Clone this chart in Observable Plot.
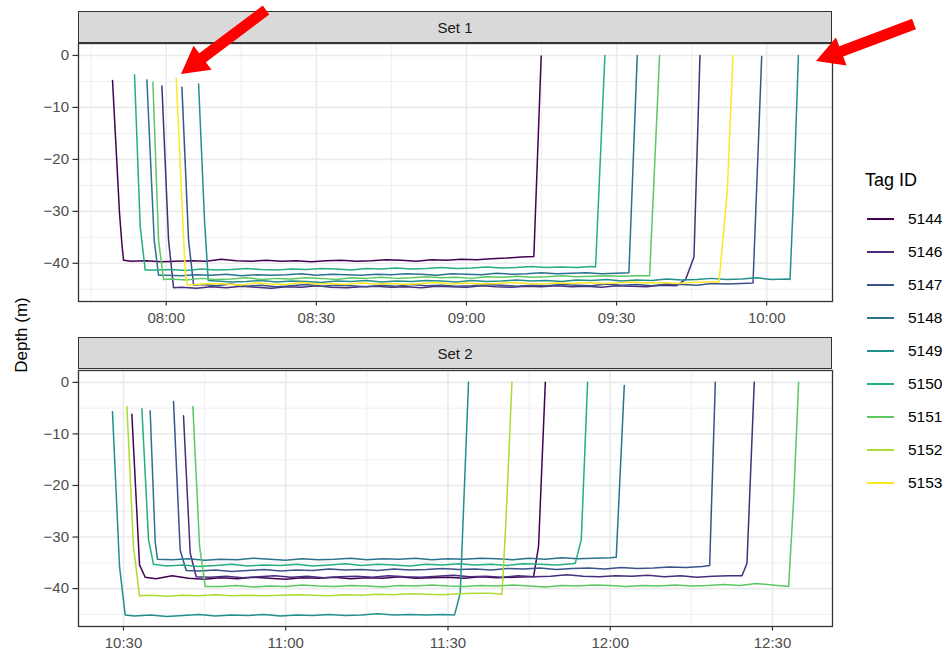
<!DOCTYPE html>
<html>
<head>
<meta charset="utf-8">
<script src="https://cdn.jsdelivr.net/npm/d3@7"></script>
<script src="https://cdn.jsdelivr.net/npm/@observablehq/plot@0.6"></script>
<style>
  body { margin: 0; background: #fff; font-family: "Liberation Sans", Arial, sans-serif; }
  #wrap { position: relative; width: 949px; height: 653px; overflow: hidden; background: #fff; }
  .strip { position: absolute; left: 78px; width: 754px; height: 32px; background: #D9D9D9;
           border: 1.3px solid #333; box-sizing: border-box; font-size: 15px; color: #1A1A1A;
           display: flex; align-items: center; justify-content: center; }
  .panel { position: absolute; left: 0; }
  #ylab { position: absolute; left: 22px; top: 335px; transform: translate(-50%, -50%) rotate(-90deg);
          font-size: 17px; color: #000; white-space: nowrap; }
  #legend { position: absolute; left: 865px; top: 170px; }
  #legend .title { position: absolute; left: 0; top: 0; font-size: 18px; color: #000; white-space: nowrap; }
  #legend .item { position: absolute; left: 0; height: 20px; white-space: nowrap; }
  #legend .sw { position: absolute; left: 2px; top: 9px; width: 27px; height: 2.4px; }
  #legend .lab { position: absolute; left: 43px; top: 1px; font-size: 15.5px; color: #000; }
  #arrows { position: absolute; left: 0; top: 0; }
</style>
</head>
<body>
<div id="wrap">
  <div class="strip" style="top:11px">Set 1</div>
  <div class="strip" style="top:337px">Set 2</div>
  <div id="ylab">Depth (m)</div>
  <div id="legend"></div>
</div>
<script>
// ---------- data ----------
const tags = ["5144", "5146", "5147", "5148", "5149", "5150", "5151", "5152", "5153"];
const colors = ["#440154", "#472D7B", "#3B528B", "#2C728E", "#21908C", "#27AD81", "#5DC863", "#AADC32", "#FDE725"];
const yTicks = [0, -10, -20, -30, -40];
const yMinor = [-5, -15, -25, -35, -45];
const set1Ticks = ["08:00", "08:30", "09:00", "09:30", "10:00"];
const set1Minor = ["07:45", "08:15", "08:45", "09:15", "09:45"];
const set2Ticks = ["10:30", "11:00", "11:30", "12:00", "12:30"];
const set2Minor = ["10:45", "11:15", "11:45", "12:15"];

// Set 1 tracks: descent points, bottom phase (start, end, depths), ascent points
const s1_5144 = { down: [["07:49:16", -4.8], ["07:50:40", -30.4], ["07:51:08", -36.2], ["07:51:28", -39.4]],
  flat: ["07:53", "09:11", [-39.6,-39.5,-39.7,-39.6,-39.5,-39.6,-39.2,-39.5,-39.6,-39.4,-39.6,-39.5,-39.7,-39.5,-39.4,-39.6,-39.5,-39.3,-39.4,-39.6,-39.3,-39.4,-39.2,-39.3,-39.1,-39.0,-38.8]],
  up: [["09:13:28", -38.7], ["09:14:56", -0.1]] };
const s1_5146 = { down: [["07:59:08", -5.9], ["08:00:28", -35.6], ["08:01:28", -44.7]],
  flat: ["08:03", "09:42", [-44.6,-44.8,-44.5,-44.7,-44.4,-44.6,-44.8,-44.5,-44.6,-44.3,-44.6,-44.7,-44.5,-44.4,-44.6,-44.5,-44.7,-44.4,-44.5,-44.6,-44.3,-44.5,-44.6,-44.4,-44.5,-44.3,-44.5,-44.4,-44.6,-44.3,-44.4,-44.5,-44.2,-44.3]],
  up: [["09:43:48", -43.1], ["09:45:28", -38.8], ["09:46:40", 0]] };
const s1_5147 = { down: [["08:03:08", -6.1], ["08:04:28", -35.6], ["08:05:28", -44.2]],
  flat: ["08:07", "09:55", [-44.1,-44.3,-44.0,-44.4,-44.2,-44.5,-44.3,-44.1,-44.4,-44.2,-44.3,-44.5,-44.2,-44.4,-44.1,-44.3,-44.2,-44.4,-44.3,-44.1,-44.2,-44.4,-44.2,-44.3,-44.1,-44.2,-44.3,-44.0,-44.2,-44.1,-44.3,-44.0,-44.1,-44.2,-43.9,-44.0,-43.9]],
  up: [["09:57:16", -43.8], ["09:59:00", -0.2]] };
const s1_5148 = { down: [["07:56:08", -4.7], ["07:57:36", -35.6], ["07:58:28", -42.3]],
  flat: ["08:00", "09:30", [-42.3,-42.4,-42.2,-42.3,-42.1,-42.4,-42.2,-42.3,-42.2,-42.0,-42.3,-42.1,-42.2,-42.3,-42.1,-42.2,-42.0,-42.1,-42.3,-42.0,-42.1,-42.2,-41.9,-42.1,-42.0,-41.8,-42.0,-41.9,-41.8,-42.0,-41.9]],
  up: [["09:32:28", -41.8], ["09:34:08", 0]] };
const s1_5149 = { down: [["08:06:28", -5.5], ["08:07:40", -32.0], ["08:08:24", -43.3]],
  flat: ["08:10", "10:04", [-43.4,-43.6,-43.5,-43.3,-43.6,-43.4,-43.5,-43.7,-43.4,-43.5,-43.3,-43.6,-43.4,-43.5,-43.3,-43.4,-43.6,-43.3,-43.5,-43.4,-43.2,-43.4,-43.3,-43.5,-43.2,-43.3,-43.1,-43.4,-43.2,-43.3,-43.0,-43.2,-43.1,-42.9,-43.1,-43.0,-42.8,-43.1,-43.0]],
  up: [["10:04:40", -43.1], ["10:05:28", -24.7], ["10:06:20", 0]] };
const s1_5150 = { down: [["07:53:40", -3.7], ["07:54:48", -33.0], ["07:55:48", -41.3]],
  flat: ["07:58", "09:25", [-41.3,-41.2,-41.4,-41.1,-41.3,-41.2,-41.0,-41.2,-41.3,-41.1,-41.2,-41.0,-41.1,-41.3,-41.0,-41.1,-40.9,-41.1,-41.0,-40.8,-41.0,-40.9,-40.7,-40.9,-40.8,-40.6,-40.8,-40.7,-40.8,-40.6]],
  up: [["09:25:48", -40.7], ["09:27:40", 0]] };
const s1_5151 = { down: [["07:57:20", -5.1], ["07:58:28", -35.6], ["07:59:28", -43.1]],
  flat: ["08:01", "09:34", [-43.0,-43.2,-42.9,-43.1,-43.0,-42.8,-43.1,-42.9,-43.0,-42.8,-42.9,-43.1,-42.8,-42.9,-42.7,-42.9,-42.8,-42.6,-42.8,-42.7,-42.9,-42.6,-42.7,-42.5,-42.7,-42.6,-42.4,-42.6,-42.5,-42.4,-42.5,-42.4]],
  up: [["09:36:36", -42.4], ["09:38:36", 0]] };
const s1_5153 = { down: [["08:02:00", -4.4], ["08:03:48", -42.0], ["08:04:16", -44.2]],
  flat: ["08:06", "09:48", [-44.1,-43.9,-44.0,-44.2,-43.8,-44.0,-44.1,-43.7,-44.0,-43.9,-44.1,-43.8,-44.0,-43.9,-44.1,-43.9,-43.7,-44.0,-43.8,-44.0,-43.9,-43.7,-43.9,-44.0,-43.8,-43.9,-43.7,-43.9,-43.8,-43.6,-43.8,-43.7,-43.9,-43.7,-43.6]],
  up: [["09:50:28", -43.6], ["09:52:08", -26.0], ["09:53:16", 0]] };

// Set 2 tracks
const s2_5149 = { down: [["10:27:58", -5.7], ["10:29:16", -35.7], ["10:30:19", -45.1]],
  flat: ["10:32", "11:29", [-45.3,-45.1,-45.4,-45.2,-45.0,-45.3,-45.1,-45.2,-45.0,-45.3,-45.1,-45.2,-45.0,-45.2,-45.1,-44.9,-45.1,-45.0,-45.1,-45.0]],
  up: [["11:31:13", -45.1], ["11:32:16", -40.9], ["11:33:48", 0]] };
const s2_5152 = { down: [["10:30:38", -4.7], ["10:31:51", -31.8], ["10:32:58", -41.4]],
  flat: ["10:35", "11:38", [-41.3,-41.5,-41.3,-41.4,-41.2,-41.4,-41.3,-41.4,-41.3,-41.2,-41.3,-41.4,-41.2,-41.3,-41.1,-41.2,-41.0,-41.1,-41.2,-41.0,-40.9,-40.9]],
  up: [["11:39:59", -41.1], ["11:40:40", -28.0], ["11:41:50", 0]] };
const s2_5144 = { down: [["10:31:33", -6.2], ["10:32:58", -35.4], ["10:34:01", -37.8]],
  flat: ["10:36", "11:45", [-38.1,-37.5,-38.0,-38.2,-37.9,-38.1,-37.8,-38.0,-38.2,-37.9,-38.0,-37.8,-38.1,-37.9,-38.0,-37.7,-38.0,-37.9,-37.8,-38.0,-37.7,-37.9,-37.8,-37.7]],
  up: [["11:45:50", -37.7], ["11:46:45", -31.8], ["11:48:00", 0]] };
const s2_5150 = { down: [["10:33:24", -5.1], ["10:34:38", -30.5], ["10:35:33", -35.3]],
  flat: ["10:38", "11:53", [-35.6,-35.4,-35.7,-35.5,-35.3,-35.6,-35.4,-35.5,-35.3,-35.6,-35.4,-35.2,-35.5,-35.3,-35.4,-35.6,-35.3,-35.4,-35.2,-35.4,-35.3,-35.5,-35.2,-35.3,-35.4,-35.2]],
  up: [["11:53:32", -35.1], ["11:54:39", -30.5], ["11:55:49", 0]] };
const s2_5148 = { down: [["10:34:56", -5.5], ["10:35:52", -31.0], ["10:36:17", -34.3]],
  flat: ["10:39", "12:00", [-34.4,-34.2,-34.5,-34.3,-34.4,-34.1,-34.3,-34.5,-34.2,-34.4,-34.3,-34.1,-34.4,-34.2,-34.3,-34.1,-34.4,-34.2,-34.3,-34.1,-34.2,-34.4,-34.1,-34.3,-34.0,-34.2,-34.1,-34.0]],
  up: [["12:01:07", -33.9], ["12:02:36", -0.6]] };
const s2_5147 = { down: [["10:39:15", -3.7], ["10:40:29", -32.5], ["10:41:36", -36.5]],
  flat: ["10:44", "12:17", [-36.6,-36.4,-36.7,-36.5,-36.3,-36.6,-36.4,-36.5,-36.2,-36.4,-36.3,-36.5,-36.2,-36.4,-36.3,-36.1,-36.3,-36.2,-36.4,-36.1,-36.2,-36.0,-36.3,-36.1,-36.0,-36.2,-35.9,-36.1,-36.0,-35.8,-35.9,-35.7]],
  up: [["12:18:23", -35.5], ["12:19:26", 0]] };
const s2_5146 = { down: [["10:41:06", -6.5], ["10:42:20", -33.1], ["10:43:27", -37.7]],
  flat: ["10:46", "12:22", [-37.8,-37.6,-37.9,-37.7,-37.5,-37.8,-37.6,-37.9,-37.7,-37.6,-37.8,-37.5,-37.7,-37.8,-37.6,-37.4,-37.7,-37.6,-37.8,-37.5,-37.7,-37.6,-37.3,-37.6,-37.7,-37.5,-37.6,-37.4,-37.7,-37.5,-37.8,-37.6,-37.5]],
  up: [["12:24:22", -37.5], ["12:25:17", -35.1], ["12:26:38", 0]] };
const s2_5151 = { down: [["10:42:50", -4.7], ["10:44:04", -31.8], ["10:45:07", -39.6]],
  flat: ["10:48", "12:30", [-39.6,-39.4,-39.7,-39.5,-39.6,-39.3,-39.5,-39.6,-39.4,-39.5,-39.7,-39.4,-39.5,-39.3,-39.5,-39.6,-39.4,-39.5,-39.3,-39.5,-39.7,-39.4,-39.5,-39.3,-39.4,-39.6,-39.4,-39.5,-39.3,-39.5,-39.4,-39.2,-39.4,-39.0,-39.3]],
  up: [["12:32:59", -39.6], ["12:33:55", -22.7], ["12:34:50", 0]] };

const set1Tracks = [["5144", s1_5144], ["5146", s1_5146], ["5147", s1_5147], ["5148", s1_5148], ["5149", s1_5149], ["5150", s1_5150], ["5151", s1_5151], ["5153", s1_5153]];
const set2Tracks = [["5144", s2_5144], ["5146", s2_5146], ["5147", s2_5147], ["5148", s2_5148], ["5149", s2_5149], ["5150", s2_5150], ["5151", s2_5151], ["5152", s2_5152]];

// ---------- helpers ----------
const T = s => { const [h, m, sec = 0] = s.split(":").map(Number); return new Date(Date.UTC(2024, 0, 1, h, m, sec)); };
function rows(tracks) {
  const out = [];
  for (const [tag, s] of tracks) {
    for (const [t, d] of s.down) out.push({tag, t: T(t), d});
    const [a, b, vals] = s.flat; const ta = +T(a), tb = +T(b);
    vals.forEach((d, i) => out.push({tag, t: new Date(ta + (tb - ta) * i / (vals.length - 1)), d}));
    for (const [t, d] of s.up) out.push({tag, t: T(t), d});
  }
  return out;
}
const minus = d => d === 0 ? "0" : (d < 0 ? "\u2212" : "") + Math.abs(d);
const fmt = d3.utcFormat("%H:%M");

function panel(data, xDomain, ticks, minor, height, mb) {
  const xt = ticks.map(T), xm = minor.map(T);
  return Plot.plot({
    width: 840, height, marginLeft: 78, marginRight: 8, marginTop: 1, marginBottom: mb,
    style: {fontFamily: '"Liberation Sans", Arial, sans-serif', fontSize: "15px", color: "#4D4D4D", background: "transparent", overflow: "visible"},
    x: {type: "utc", domain: xDomain.map(T)},
    y: {domain: [-47.35, 2.3]},
    color: {domain: tags, range: colors},
    marks: [
      Plot.gridX(xm, {stroke: "#EBEBEB", strokeOpacity: 1, strokeWidth: 0.8}),
      Plot.gridY(yMinor, {stroke: "#EBEBEB", strokeOpacity: 1, strokeWidth: 0.8}),
      Plot.gridX(xt, {stroke: "#EBEBEB", strokeOpacity: 1, strokeWidth: 1.6}),
      Plot.gridY(yTicks, {stroke: "#EBEBEB", strokeOpacity: 1, strokeWidth: 1.6}),
      Plot.line(data, {x: "t", y: "d", z: "tag", stroke: "tag", strokeWidth: 1.5, curve: "linear"}),
      Plot.axisX(xt, {tickFormat: fmt, tickSize: 4.5, tickPadding: 6, stroke: "#333", strokeWidth: 1.2, fill: "#4D4D4D", label: null}),
      Plot.axisY(yTicks, {tickFormat: minus, tickSize: 5.5, tickPadding: 4, stroke: "#333", strokeWidth: 1.2, fill: "#4D4D4D", label: null}),
      Plot.frame({stroke: "#333", strokeWidth: 1.3})
    ]
  });
}

const wrap = document.getElementById("wrap");
const p1 = panel(rows(set1Tracks), ["07:42:28", "10:13:09"], set1Ticks, set1Minor, 289, 30);
p1.classList.add("panel"); p1.style.top = "42px";
const p2 = panel(rows(set2Tracks), ["10:21:41", "12:41:06"], set2Ticks, set2Minor, 286, 29);
p2.classList.add("panel"); p2.style.top = "369px";
wrap.insertBefore(p2, wrap.firstChild);
wrap.insertBefore(p1, wrap.firstChild);

// legend from the colour scale
const cs = p1.scale("color");
const leg = document.getElementById("legend");
leg.innerHTML = '<div class="title">Tag ID</div>';
cs.domain.forEach((tag, i) => {
  const it = document.createElement("div");
  it.className = "item";
  it.style.top = (39 + 33 * i) + "px";
  it.innerHTML = `<div class="sw" style="background:${cs.apply(tag)}"></div><div class="lab">${tag}</div>`;
  leg.appendChild(it);
});

// red annotation arrows
function arrowPts(tail, tip, sw, hw, hl) {
  const dx = tip[0] - tail[0], dy = tip[1] - tail[1], L = Math.hypot(dx, dy);
  const ux = dx / L, uy = dy / L, nx = -uy, ny = ux;
  const nk = [tip[0] - ux * hl, tip[1] - uy * hl];
  const p = [
    [tail[0] + nx * sw / 2, tail[1] + ny * sw / 2], [nk[0] + nx * sw / 2, nk[1] + ny * sw / 2],
    [nk[0] + nx * hw / 2, nk[1] + ny * hw / 2], tip,
    [nk[0] - nx * hw / 2, nk[1] - ny * hw / 2], [nk[0] - nx * sw / 2, nk[1] - ny * sw / 2],
    [tail[0] - nx * sw / 2, tail[1] - ny * sw / 2]
  ];
  return p.map(q => q.join(",")).join(" ");
}
const ns = "http://www.w3.org/2000/svg";
const ov = document.createElementNS(ns, "svg");
ov.setAttribute("id", "arrows"); ov.setAttribute("width", 949); ov.setAttribute("height", 653);
for (const [tail, tip] of [[[266, 10], [181, 74]], [[914, 24], [816, 61]]]) {
  const pg = document.createElementNS(ns, "polygon");
  pg.setAttribute("points", arrowPts(tail, tip, 11, 30, 27));
  pg.setAttribute("fill", "#FF0000");
  ov.appendChild(pg);
}
wrap.appendChild(ov);
</script>
</body>
</html>
